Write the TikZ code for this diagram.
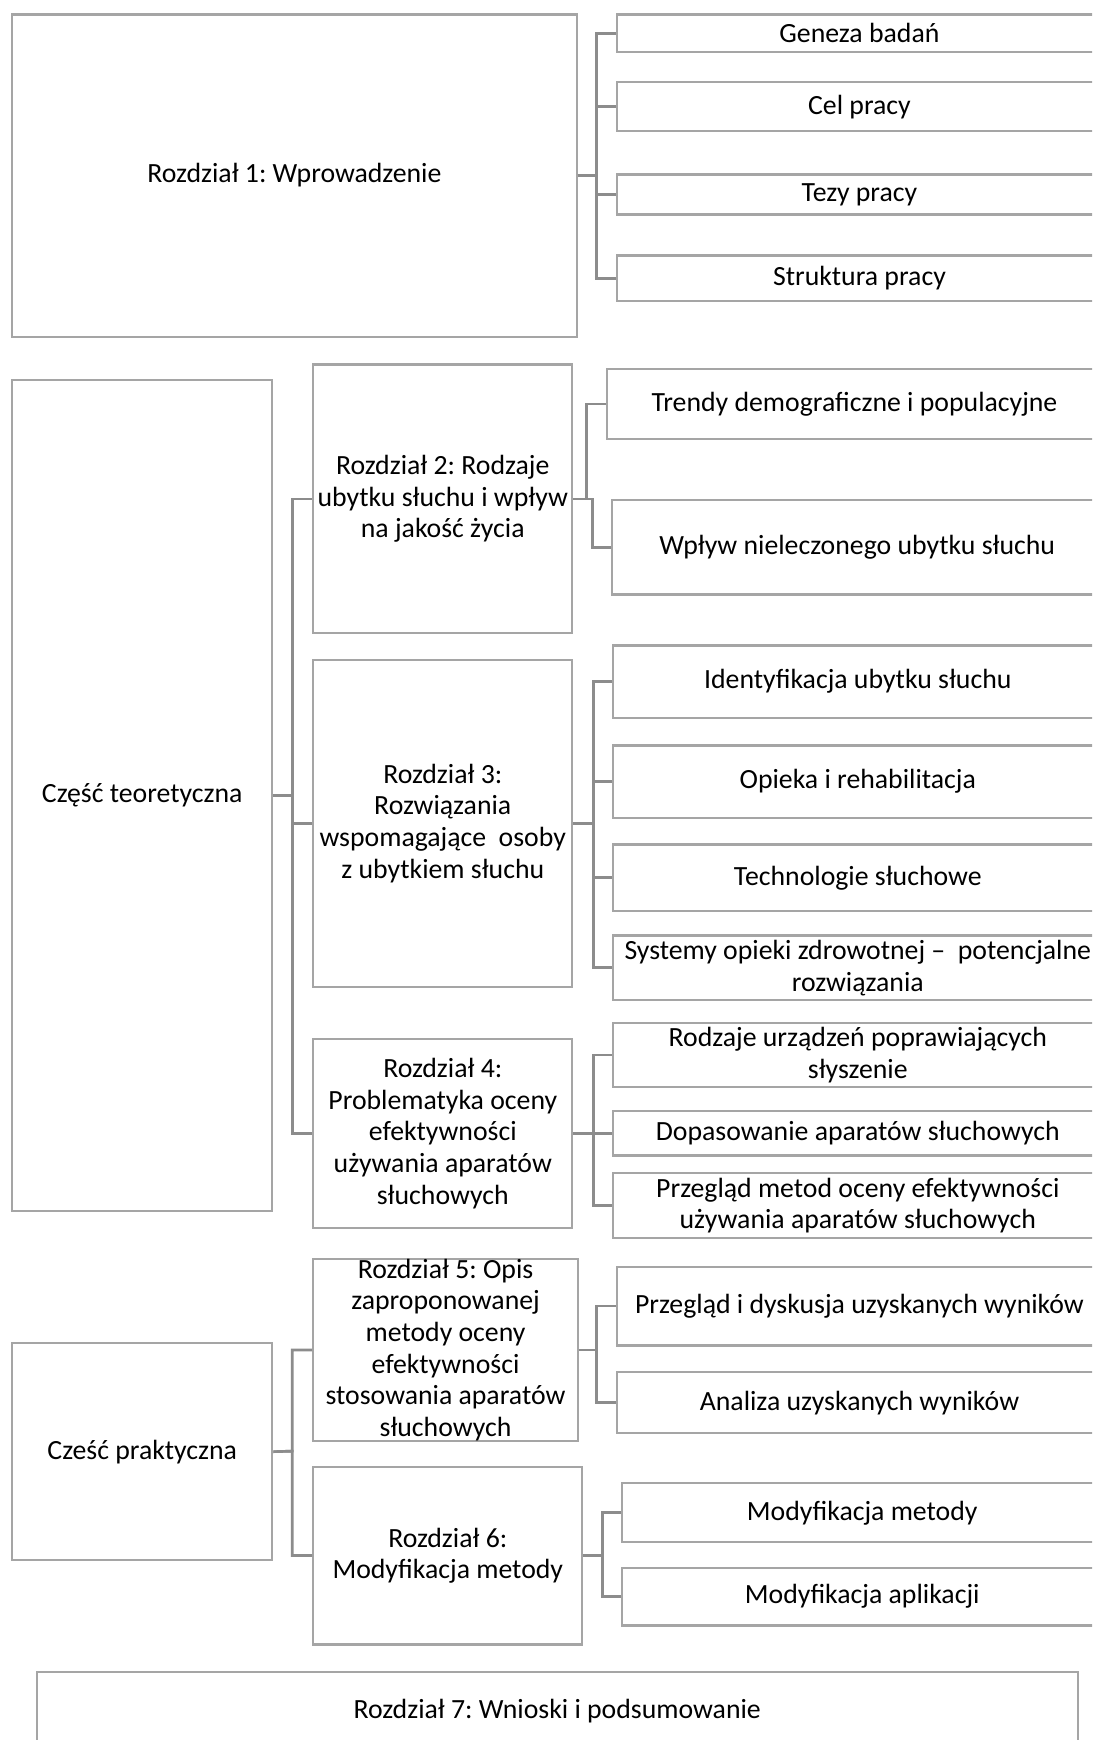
\documentclass[tikz,border=0pt]{standalone}
\usepackage{fontspec}
\setmainfont{Carlito}
\definecolor{boxcol}{RGB}{165,165,165}
\definecolor{linecol}{RGB}{140,140,140}
\newcommand\mybox[6]{\node[box, minimum width={(#4-(#2))*1pt}, minimum height={(#5-(#3))*1pt}] (#1) at ({(#2+#4)/2},{(#3+#5)/2}) {#6};}
\frenchspacing
\begin{document}
\begin{tikzpicture}[x=1pt,y=-1pt,
  box/.style={draw=boxcol, line width=2pt, fill=white, inner sep=0pt, align=center, font=\fontsize{25}{28.5}\selectfont\frenchspacing},
  conn/.style={draw=linecol, line width=2.4pt}]
\useasboundingbox (0,0) rectangle (983,1566);
\clip (0,0) rectangle (983,1566);
\fill[white] (0,0) rectangle (983,1566);

% ---- Section 1
\mybox{r1}{11}{13}{519}{303}{Rozdział 1: Wprowadzenie}
\mybox{s11}{555}{13}{992}{47}{Geneza badań}
\mybox{s12}{555}{74}{992}{118}{Cel pracy}
\mybox{s13}{555}{157}{992}{193}{Tezy pracy}
\mybox{s14}{555}{230}{992}{271}{Struktura pracy}
\coordinate (j1) at (537,158);
\foreach \c in {s11,s12,s13,s14} \draw[conn] (r1.east) -- (j1) |- (\c.west);

% ---- Część teoretyczna
\mybox{ct}{11}{342}{245}{1090}{Część teoretyczna}
\mybox{r2}{282}{328}{515}{570}{Rozdział 2: Rodzaje\\ubytku słuchu i wpływ\\na jakość życia}
\mybox{r3}{282}{594}{515}{888}{Rozdział 3:\\Rozwiązania\\wspomagające\ \ osoby\\z ubytkiem słuchu}
\mybox{r4}{282}{935}{515}{1105}{Rozdział 4:\\Problematyka oceny\\efektywności\\używania aparatów\\słuchowych}
\coordinate (jct) at (263,716);
\foreach \c in {r2,r3,r4} \draw[conn] (ct.east) -- (jct) |- (\c.west);

\mybox{s21}{546}{332}{992}{395}{Trendy demograficzne i populacyjne}
\mybox{s22}{551}{450}{992}{535}{Wpływ nieleczonego ubytku słuchu}
\coordinate (j2a) at (528,449);
\coordinate (j2b) at (533,449);
\draw[conn] (r2.east) -- (j2a) |- (s21.west);
\draw[conn] (r2.east) -- (j2b) |- (s22.west);

\mybox{s31}{552}{581}{992}{646}{Identyfikacja ubytku słuchu}
\mybox{s32}{552}{671}{992}{736}{Opieka i rehabilitacja}
\mybox{s33}{552}{760}{992}{820}{Technologie słuchowe}
\mybox{s34}{552}{842}{992}{900}{Systemy opieki zdrowotnej –\ \ potencjalne\\rozwiązania}
\coordinate (j3) at (534,741);
\foreach \c in {s31,s32,s33,s34} \draw[conn] (r3.east) -- (j3) |- (\c.west);

\mybox{s41}{552}{921}{992}{978}{Rodzaje urządzeń poprawiających\\słyszenie}
\mybox{s42}{552}{1000}{992}{1040}{Dopasowanie aparatów słuchowych}
\mybox{s43}{552}{1056}{992}{1114}{Przegląd metod oceny efektywności\\używania aparatów słuchowych}
\coordinate (j4) at (534,1020);
\foreach \c in {s41,s42,s43} \draw[conn] (r4.east) -- (j4) |- (\c.west);

% ---- Część praktyczna
\mybox{cp}{11}{1209}{245}{1404}{Cześć praktyczna}
\mybox{r5}{282}{1133}{520}{1297}{Rozdział 5: Opis\\zaproponowanej\\metody oceny\\efektywności\\stosowania aparatów\\słuchowych}
\mybox{r6}{282}{1320}{524}{1480}{Rozdział 6:\\Modyfikacja metody}
\coordinate (jcp) at (263,1306);
\foreach \c in {r5,r6} \draw[conn] (cp.east) -- (jcp) |- (\c.west);

\mybox{s51}{555}{1140}{992}{1211}{Przegląd i dyskusja uzyskanych wyników}
\mybox{s52}{555}{1235}{992}{1290}{Analiza uzyskanych wyników}
\coordinate (j5) at (537,1215);
\foreach \c in {s51,s52} \draw[conn] (r5.east) -- (j5) |- (\c.west);

\mybox{s61}{560}{1335}{992}{1388}{Modyfikacja metody}
\mybox{s62}{560}{1411}{992}{1463}{Modyfikacja aplikacji}
\coordinate (j6) at (542,1400);
\foreach \c in {s61,s62} \draw[conn] (r6.east) -- (j6) |- (\c.west);

% ---- Rozdział 7
\mybox{r7}{33}{1505}{970}{1575}{Rozdział 7: Wnioski i podsumowanie}
\end{tikzpicture}
\end{document}
